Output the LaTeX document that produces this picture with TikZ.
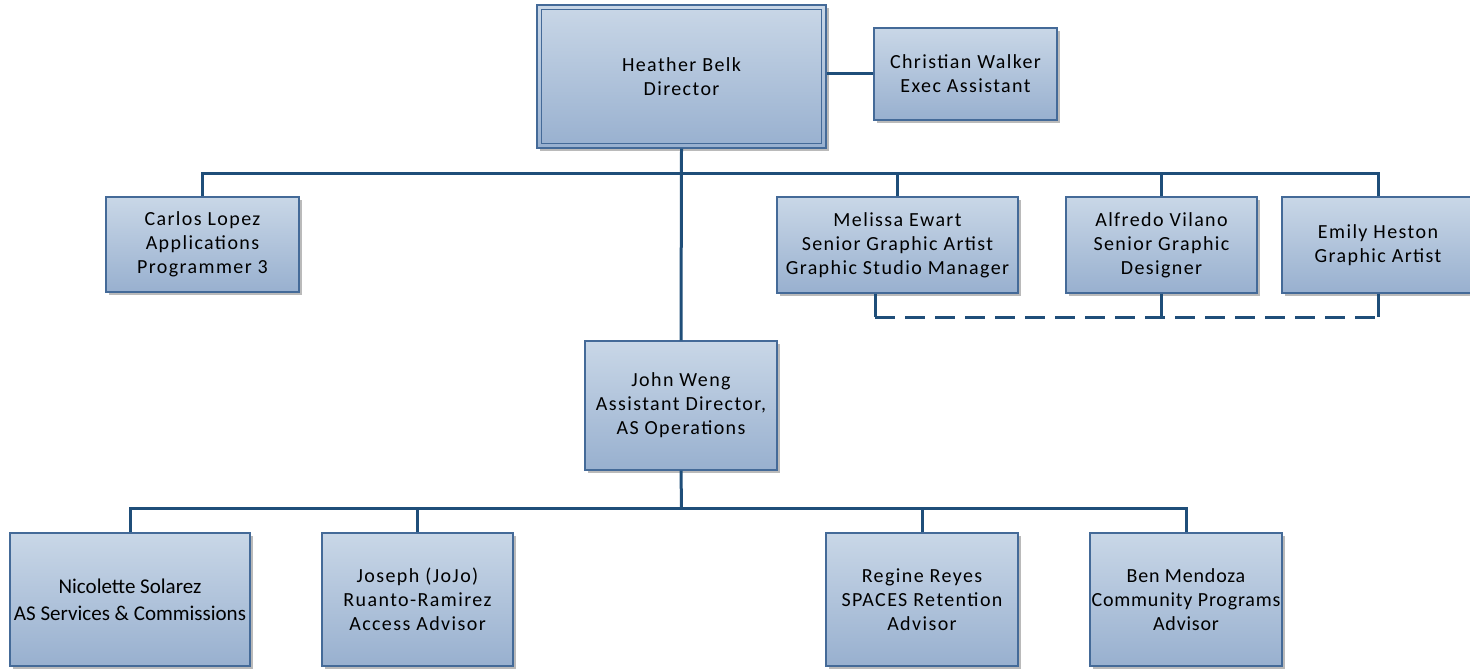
\documentclass[tikz,border=0pt]{standalone}
\usepackage{fontspec}
\setmainfont[LetterSpace=7]{Carlito}
\newfontfamily\plainfont{Carlito}
\newfontfamily\tightfont[LetterSpace=4]{Carlito}
\usetikzlibrary{shadows}
\definecolor{lineblue}{RGB}{31,78,121}
\definecolor{boxedge}{RGB}{68,106,152}
\definecolor{filltop}{RGB}{201,215,231}
\definecolor{fillbot}{RGB}{152,176,207}
\tikzset{
  orgbox/.style={draw=boxedge, line width=1.2pt, top color=filltop, bottom color=fillbot,
    align=center, inner sep=0pt, text=black,
    drop shadow={shadow xshift=3pt, shadow yshift=-3pt, fill=black!45, opacity=0.6},
    font=\fontsize{20}{24}\selectfont},
  conn/.style={draw=lineblue, line width=3pt},
  dashconn/.style={draw=lineblue, line width=3pt, dash pattern=on 20pt off 10pt}
}
\begin{document}
\begin{tikzpicture}[x=1pt,y=-1pt]
\useasboundingbox (0,0) rectangle (1470,669);
\node[orgbox, minimum width=289pt, minimum height=143pt] (dir) at (681.5,76.5) {};
\coordinate (b1) at (681.5,173);
\coordinate (b2) at (681.5,508);
\coordinate (dl) at (681.5,317);
\node[orgbox, minimum width=183pt, minimum height=92pt] (cw) at (965.5,74) {Christian Walker\\Exec Assistant};
\node[orgbox, minimum width=193pt, minimum height=95pt] (carlos) at (202.5,244.5) {Carlos Lopez\\Applications\\Programmer 3};
\node[orgbox, minimum width=241pt, minimum height=96pt] (melissa) at (897.5,245) {Melissa Ewart\\Senior Graphic Artist\\Graphic Studio Manager};
\node[orgbox, minimum width=191pt, minimum height=96pt] (alfredo) at (1161.5,245) {Alfredo Vilano\\Senior Graphic\\Designer};
\node[orgbox, minimum width=192pt, minimum height=96pt] (emily) at (1378,245) {Emily Heston\\Graphic Artist};
\node[orgbox, minimum width=192pt, minimum height=129pt] (john) at (681,405.5) {John Weng\\Assistant Director,\\AS Operations};
\node[orgbox, minimum width=240pt, minimum height=133pt, font=\plainfont\fontsize{21}{27}\selectfont] (nic) at (130,599.5) {Nicolette Solarez\\AS Services \& Commissions};
\node[orgbox, minimum width=191pt, minimum height=133pt] (joseph) at (417.5,599.5) {Joseph (JoJo)\\Ruanto-Ramirez\\Access Advisor};
\node[orgbox, minimum width=192pt, minimum height=133pt] (regine) at (922,599.5) {Regine Reyes\\SPACES Retention\\Advisor};
\node[orgbox, minimum width=192pt, minimum height=133pt, font=\tightfont\fontsize{20}{24}\selectfont] (ben) at (1186,599.5) {Ben Mendoza\\Community Programs\\Advisor};
% director inner frame and text
\draw[boxedge, line width=1.2pt] ([shift={(5,5)}]dir.north west) rectangle ([shift={(-5,-5)}]dir.south east);
\node[align=center, font=\fontsize{20}{24}\selectfont] (dirtext) at (dir.center) {Heather Belk\\Director};
% connectors
\draw[conn] (dir.east |- cw.west) -- (cw.west);
\draw[conn] (dir.south) -- (john.north);
\draw[conn] (carlos.north) |- (b1) -| (emily.north);
\draw[conn] (melissa.north) -- (melissa.north |- b1);
\draw[conn] (alfredo.north) -- (alfredo.north |- b1);
\draw[conn] (john.south) -- (b2);
\draw[conn] (nic.north) |- (b2) -| (ben.north);
\draw[conn] (joseph.north) -- (joseph.north |- b2);
\draw[conn] (regine.north) -- (regine.north |- b2);
% dotted-line relationship
\coordinate (ms) at ([xshift=-22.5pt]melissa.south);
\draw[conn] (ms) -- (ms |- dl);
\draw[conn] (alfredo.south) -- (alfredo.south |- dl);
\draw[conn] (emily.south) -- (emily.south |- dl);
\draw[dashconn] (ms |- dl) -- (emily.south |- dl);
\end{tikzpicture}
\end{document}
